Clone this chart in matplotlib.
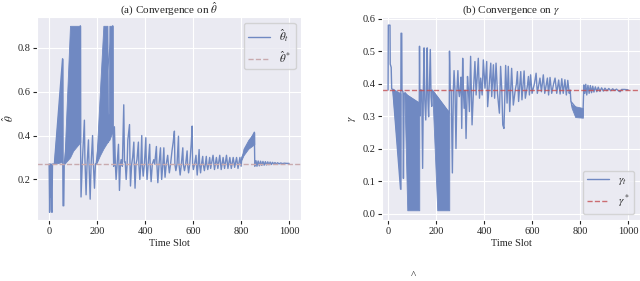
import matplotlib
matplotlib.use("Agg")
import matplotlib.pyplot as plt
import seaborn as sns

# ---- theta_hat trajectory (vertices) ----
theta_t = [0, 2, 4, 6, 8, 10, 12, 14, 22, 56, 57, 58, 61, 63,
           130, 131, 133, 138, 147, 149, 154, 158, 164, 166, 171, 175, 181, 184, 189, 193, 196,
           265, 266, 269, 272, 276, 279, 285, 289, 293, 297, 300, 305, 311, 314, 317, 321, 325,
           328, 335, 337, 339, 344, 348, 353, 355, 358, 362, 366, 372, 374, 378, 382, 386, 388,
           392, 397, 403, 405, 408, 413, 419, 421, 425, 430, 436, 440, 447, 449, 453, 458, 464,
           466, 469, 474, 478, 480, 483, 488, 494, 497, 501, 506, 512, 517, 522, 524, 528, 533,
           539, 541, 546, 551, 557, 559, 564, 569, 575, 577, 581, 586, 592, 596, 598, 601, 606,
           612, 614, 617, 621, 625, 627, 631, 635, 640, 642, 647, 651, 655, 657, 661, 665, 669,
           673, 683, 689, 697, 703, 711, 717, 725, 731, 739, 745, 753, 759, 767, 773, 781, 787,
           795, 800, 803, 855, 857, 862, 866, 871, 876, 881, 886, 891, 896, 901, 906, 911, 916,
           921, 926, 931, 936, 941, 946, 952, 958, 965, 972, 980, 990, 1000]
theta_v = [0.27, 0.05, 0.27, 0.12, 0.27, 0.06, 0.05, 0.27, 0.27, 0.75, 0.27, 0.08, 0.08, 0.27,
           0.90, 0.37, 0.12, 0.27, 0.47, 0.30, 0.13, 0.27, 0.38, 0.28, 0.11, 0.27, 0.40, 0.28, 0.16, 0.27, 0.27,
           0.90, 0.42, 0.26, 0.44, 0.27, 0.20, 0.30, 0.36, 0.15, 0.27, 0.29, 0.26, 0.54, 0.28, 0.28, 0.20, 0.27,
           0.38, 0.45, 0.27, 0.17, 0.27, 0.30, 0.37, 0.27, 0.16, 0.27, 0.29, 0.37, 0.27, 0.20, 0.27, 0.40, 0.27,
           0.215, 0.27, 0.39, 0.27, 0.20, 0.27, 0.36, 0.27, 0.19, 0.27, 0.29, 0.27, 0.35, 0.27, 0.185, 0.27, 0.344,
           0.27, 0.20, 0.27, 0.344, 0.27, 0.21, 0.27, 0.31, 0.27, 0.23, 0.27, 0.33, 0.37, 0.42, 0.27, 0.24, 0.27,
           0.397, 0.27, 0.22, 0.27, 0.344, 0.27, 0.24, 0.27, 0.33, 0.27, 0.23, 0.27, 0.36, 0.443, 0.27, 0.245, 0.27,
           0.31, 0.27, 0.22, 0.27, 0.336, 0.27, 0.23, 0.27, 0.305, 0.27, 0.24, 0.27, 0.305, 0.27, 0.245, 0.27, 0.30,
           0.25, 0.31, 0.245, 0.30, 0.25, 0.31, 0.245, 0.30, 0.25, 0.31, 0.25, 0.30, 0.25, 0.30, 0.255, 0.30, 0.25,
           0.30, 0.26, 0.30, 0.415, 0.26, 0.285, 0.26, 0.284, 0.262, 0.283, 0.264, 0.282, 0.265, 0.281, 0.266, 0.28, 0.267,
           0.279, 0.268, 0.278, 0.269, 0.277, 0.27, 0.276, 0.271, 0.275, 0.272, 0.274, 0.273, 0.273]

# dense oscillation bands of theta_hat (time, lower edge, upper edge)
theta_bands = [
    ([20, 56], [0.27, 0.28], [0.27, 0.75]),
    ([63, 87, 100, 130], [0.27, 0.30, 0.33, 0.37], [0.27, 0.90, 0.90, 0.90]),
    ([196, 212, 226, 243, 245, 249, 251, 265],
     [0.27, 0.31, 0.34, 0.37, 0.37, 0.38, 0.38, 0.42],
     [0.27, 0.61, 0.90, 0.90, 0.50, 0.50, 0.90, 0.90]),
    ([802, 810, 830, 855], [0.29, 0.31, 0.34, 0.36], [0.30, 0.34, 0.38, 0.415]),
]
theta_star = 0.27

# ---- gamma trajectory ----
gamma_t = [0, 1, 8, 9, 13, 15, 20, 52, 53, 54, 57, 58, 62, 64, 67,
           130, 131, 133, 136, 140, 144, 147, 150, 153, 157, 160, 163, 166, 169, 172, 176, 179, 182, 184,
           255, 256, 259, 263, 268, 272, 275, 279, 283, 287, 291, 294, 297, 300, 304, 307, 311, 314, 317,
           321, 325, 331, 335, 339, 344, 347, 350, 356, 362, 367, 376, 381, 386, 392, 397, 404, 411, 415,
           422, 428, 432, 439, 444, 450, 456, 464, 469, 474, 478, 483, 487, 490, 496, 501, 507, 515, 522,
           530, 535, 539, 544, 553, 558, 567, 572, 580, 585, 589, 594, 600, 610, 617, 622, 633, 639, 647,
           653, 664, 669, 675, 682, 690, 696, 703, 711, 717, 724, 730, 737, 743, 749, 755, 759, 762,
           812, 816, 820, 824, 828, 833, 838, 843, 848, 853, 858, 864, 870, 876, 883, 890, 897, 904, 912,
           920, 928, 936, 944, 952, 960, 967, 973, 985, 1000]
gamma_v = [0.38, 0.58, 0.58, 0.46, 0.45, 0.385, 0.38, 0.075, 0.37, 0.555, 0.555, 0.38, 0.375, 0.108, 0.37,
           0.34, 0.515, 0.30, 0.38, 0.38, 0.139, 0.38, 0.51, 0.35, 0.288, 0.38, 0.51, 0.35, 0.298, 0.38, 0.505, 0.36, 0.33, 0.38,
           0.31, 0.50, 0.38, 0.38, 0.125, 0.38, 0.44, 0.38, 0.20, 0.38, 0.44, 0.38, 0.36, 0.38, 0.42, 0.262, 0.478, 0.38, 0.324,
           0.38, 0.231, 0.422, 0.38, 0.314, 0.484, 0.38, 0.273, 0.38, 0.468, 0.365, 0.478, 0.355, 0.417, 0.365, 0.473, 0.386, 0.468, 0.329,
           0.40, 0.463, 0.36, 0.458, 0.355, 0.463, 0.37, 0.309, 0.453, 0.38, 0.273, 0.262, 0.38, 0.456, 0.34, 0.453, 0.314, 0.447, 0.334,
           0.38, 0.40, 0.437, 0.345, 0.437, 0.35, 0.439, 0.355, 0.39, 0.422, 0.365, 0.427, 0.37, 0.40, 0.432, 0.37, 0.417, 0.375, 0.427,
           0.37, 0.417, 0.365, 0.419, 0.37, 0.40, 0.417, 0.37, 0.411, 0.368, 0.415, 0.37, 0.412, 0.365, 0.41, 0.37, 0.38, 0.345,
           0.30, 0.396, 0.37, 0.398, 0.365, 0.395, 0.37, 0.394, 0.372, 0.392, 0.374, 0.39, 0.375, 0.389, 0.376, 0.387, 0.377, 0.386, 0.378,
           0.385, 0.378, 0.384, 0.379, 0.383, 0.378, 0.375, 0.382, 0.382, 0.381]

gamma_bands = [
    ([18, 52], [0.38, 0.075], [0.385, 0.37]),
    ([68, 80, 130], [0.37, 0.01, 0.01], [0.375, 0.365, 0.34]),
    ([184, 205, 255], [0.38, 0.01, 0.01], [0.38, 0.36, 0.31]),
    ([761, 765, 780, 812], [0.34, 0.325, 0.297, 0.295], [0.345, 0.335, 0.33, 0.325]),
]
gamma_star = 0.38

sns.set_style("darkgrid", {"xtick.bottom": True, "ytick.left": True})
plt.rcParams['font.family'] = ['Liberation Serif', 'DejaVu Serif']
plt.rcParams['mathtext.fontset'] = 'stix'

blue = '#7089c2'
red = '#C44E52'

fig = plt.figure(figsize=(6.4, 2.81), dpi=100)
ax1 = fig.add_axes([0.058, 0.217, 0.4125, 0.7224])
ax2 = fig.add_axes([0.597, 0.217, 0.403, 0.7224])

# (a) theta
for bt, lo, hi in theta_bands:
    ax1.fill_between(bt, lo, hi, color=blue, lw=0.6, edgecolor=blue)
ax1.plot(theta_t, theta_v, color=blue, lw=1.0, label=r'$\hat{\theta}_t$')
ax1.axhline(theta_star, color='#c9aaae', ls='--', lw=1.0, label=r'$\hat{\theta}^*$')
ax1.set_xlim(-50, 1050)
ax1.set_ylim(0.015, 0.94)
ax1.set_yticks([0.2, 0.4, 0.6, 0.8])
ax1.set_xticks([0, 200, 400, 600, 800, 1000])
ax1.set_title(r'(a) Convergence on $\hat{\theta}$', fontsize=8, pad=3)
ax1.set_xlabel('Time Slot', fontsize=7.5, labelpad=2)
ax1.set_ylabel(r'$\hat{\theta}$', fontsize=8, labelpad=1)
ax1.legend(loc='upper right', fontsize=8)

# (b) gamma
for bt, lo, hi in gamma_bands:
    ax2.fill_between(bt, lo, hi, color=blue, lw=0.6, edgecolor=blue)
ax2.plot(gamma_t, gamma_v, color=blue, lw=1.0, label=r'$\gamma_t$')
ax2.axhline(gamma_star, color=red, ls='--', lw=1.0, alpha=0.8, label=r'$\gamma^*$')
ax2.set_xlim(-25, 1050)
ax2.set_ylim(-0.02, 0.605)
ax2.set_yticks([0.0, 0.1, 0.2, 0.3, 0.4, 0.5, 0.6])
ax2.set_xticks([0, 200, 400, 600, 800, 1000])
ax2.set_title(r'(b) Convergence on $\gamma$', fontsize=8, pad=3)
ax2.set_xlabel('Time Slot', fontsize=7.5, labelpad=2)
ax2.set_ylabel(r'$\gamma$', fontsize=8, labelpad=3)
ax2.legend(loc='lower right', fontsize=8)

for ax in (ax1, ax2):
    ax.tick_params(labelsize=7.5, length=3, width=0.8, pad=2, colors='.15')

fig.text(413 / 640, 1 - 275 / 281, '^', ha='center', va='center', fontsize=8)

fig.savefig('out.png', dpi=100)
